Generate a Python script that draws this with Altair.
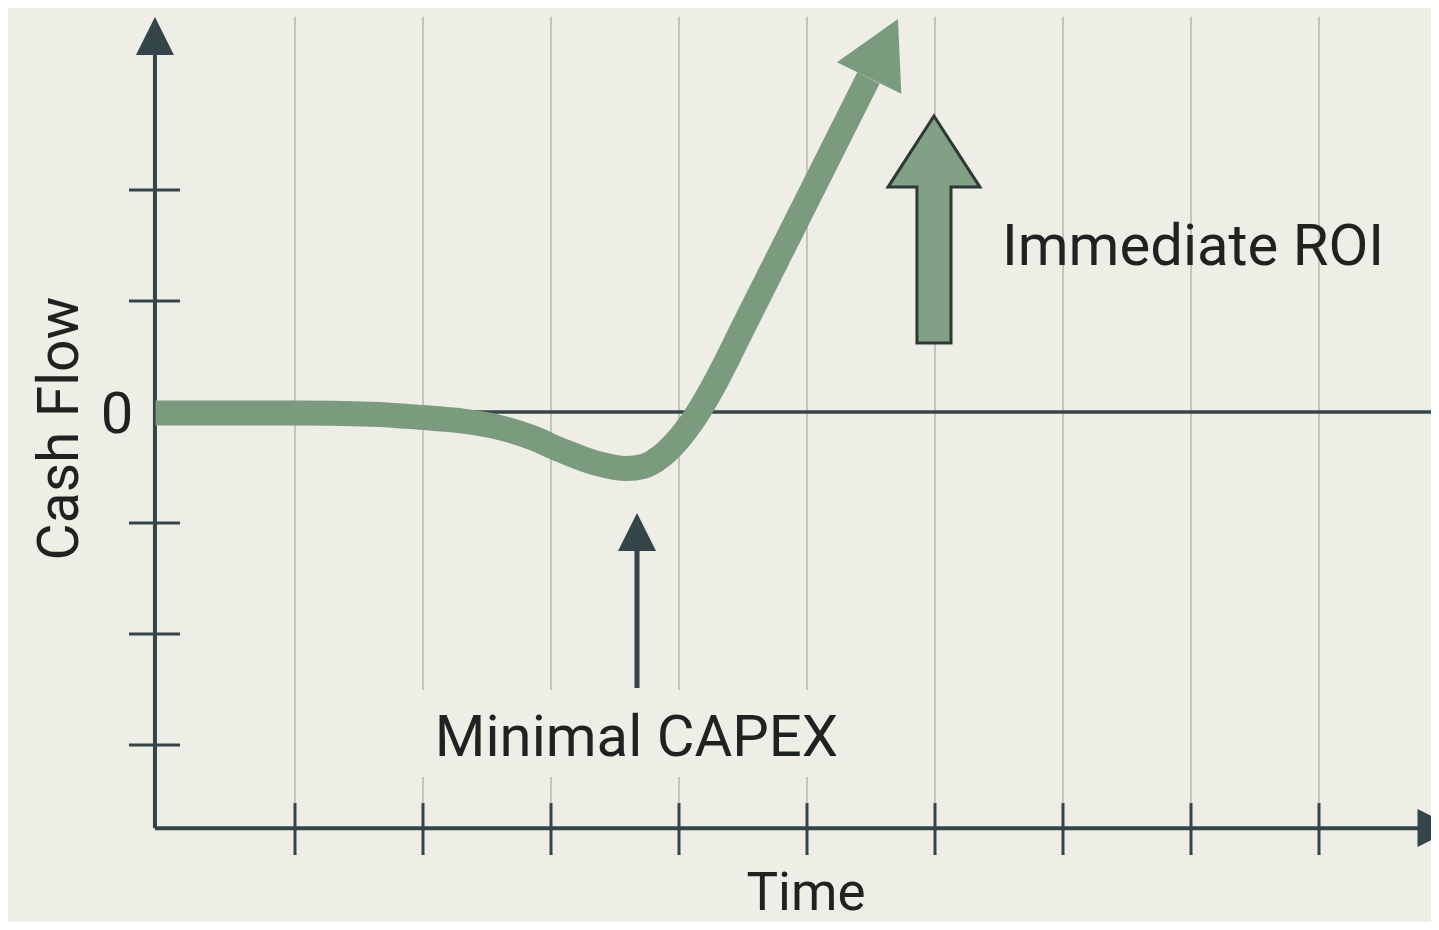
import altair as alt
import pandas as pd

# ---------------- data ----------------
curve_time = [-0.09, 1.0, 1.6, 2.0, 2.3, 2.6, 2.85, 3.07, 3.35, 3.59, 3.72, 3.86, 4.0, 4.14, 4.3, 4.5, 5.48]
curve_cash = [-0.01, -0.01, -0.02, -0.05, -0.08, -0.14, -0.23, -0.34, -0.46, -0.51, -0.49, -0.4, -0.24, -0.02, 0.3, 0.76, 3.01]

grid_times = [1, 2, 3, 4, 5, 6, 7, 8, 9]
broken_grid_times = [2, 3, 4, 5]
y_tick_values = [-3, -2, -1, 1, 2]

axis_time = -0.094
axis_cash = -3.75
grid_top = 3.56
label_gap = (-2.505, -3.288)
x_tick_span = (-3.523, -3.991)
y_tick_span = (-0.297, 0.102)
y_axis_top = 3.3

head_points_t = [-0.094, 9.918, 3.672]
head_points_v = [3.387, -3.748, -1.081]
head_angles = [0, 90, 0]

curve_head_t = [5.598]
curve_head_v = [3.275]

roi_arrow_t = [5.992]
roi_arrow_v = [1.644]

capex_shaft_t = [3.672]
capex_shaft_v = [-2.486]
capex_shaft_v2 = [-1.198]

labels_text = ["Minimal CAPEX", "Immediate ROI", "Time", "Cash Flow", "0"]
labels_t = [3.668, 8.016, 4.992, -0.695, -0.39]
labels_v = [-3.099, 1.324, -4.487, -0.149, -0.189]
labels_angle = [0, 0, 0, 270, 0]
labels_size = [58, 58, 53, 57, 58]

# ---------------- tables ----------------
curve_df = pd.DataFrame({"t": curve_time, "v": curve_cash, "o": list(range(len(curve_time)))})

grid_rows = []
for g in grid_times:
    if g in broken_grid_times:
        grid_rows.append({"t": g, "v": grid_top, "v2": label_gap[0]})
        grid_rows.append({"t": g, "v": label_gap[1], "v2": axis_cash})
    else:
        grid_rows.append({"t": g, "v": grid_top, "v2": axis_cash})
grid_df = pd.DataFrame(grid_rows)

xtick_df = pd.DataFrame({"t": grid_times, "v": [x_tick_span[0]] * 9, "v2": [x_tick_span[1]] * 9})
ytick_df = pd.DataFrame({"v": y_tick_values, "t": [y_tick_span[0]] * 5, "t2": [y_tick_span[1]] * 5})

yaxis_df = pd.DataFrame({"t": [axis_time], "v": [axis_cash], "v2": [y_axis_top]})
xaxis_df = pd.DataFrame({"v": [axis_cash], "t": [axis_time], "t2": [9.875]})
zero_df = pd.DataFrame({"v": [0.0], "t": [axis_time], "t2": [9.875]})

heads_df = pd.DataFrame({"t": head_points_t, "v": head_points_v, "a": head_angles})
curve_head_df = pd.DataFrame({"t": curve_head_t, "v": curve_head_v})
roi_df = pd.DataFrame({"t": roi_arrow_t, "v": roi_arrow_v})
capex_df = pd.DataFrame({"t": capex_shaft_t, "v": capex_shaft_v, "v2": capex_shaft_v2})
labels_df = pd.DataFrame({"text": labels_text, "t": labels_t, "v": labels_v,
                          "a": labels_angle, "s": labels_size})

# ---------------- scales ----------------
xs = alt.Scale(domain=[-159 / 128, 1264 / 128], nice=False, zero=False)
ys = alt.Scale(domain=[-510 / 111, 404 / 111], nice=False, zero=False)

def X(f="t"):
    return alt.X(f, type="quantitative", scale=xs, axis=None)

def Y(f="v"):
    return alt.Y(f, type="quantitative", scale=ys, axis=None)

DARK = "#34454a"
GREEN = "#7b9b7e"
GRID = "#c4c4bc"

grid = alt.Chart(grid_df).mark_rule(color=GRID, strokeWidth=2).encode(
    x=X(), y=Y(), y2="v2:Q")

zero = alt.Chart(zero_df).mark_rule(color=DARK, strokeWidth=3.5).encode(
    x=X(), x2="t2:Q", y=Y())

yaxis = alt.Chart(yaxis_df).mark_rule(color=DARK, strokeWidth=4).encode(
    x=X(), y=Y(), y2="v2:Q")
xaxis = alt.Chart(xaxis_df).mark_rule(color=DARK, strokeWidth=4).encode(
    x=X(), x2="t2:Q", y=Y())

xticks = alt.Chart(xtick_df).mark_rule(color=DARK, strokeWidth=3).encode(
    x=X(), y=Y(), y2="v2:Q")
yticks = alt.Chart(ytick_df).mark_rule(color=DARK, strokeWidth=3).encode(
    x=X(), x2="t2:Q", y=Y())

heads = alt.Chart(heads_df).mark_point(
    shape="M0,-1L1,1L-1,1Z", filled=True, size=1444, color=DARK, opacity=1
).encode(x=X(), y=Y(), angle=alt.Angle("a:Q", scale=None))

curve = alt.Chart(curve_df).mark_line(
    color=GREEN, strokeWidth=25, interpolate="monotone", strokeCap="butt"
).encode(x=X(), y=Y(), order="o:Q")

curve_head = alt.Chart(curve_head_df).mark_point(
    shape="M0,-1L1.09,1L-1.09,1Z", filled=True, size=4316, angle=26,
    color=GREEN, opacity=1
).encode(x=X(), y=Y())

roi = alt.Chart(roi_df).mark_point(
    shape="M0,-1L0.405,-0.374L0.15,-0.374L0.15,1L-0.15,1L-0.15,-0.374L-0.405,-0.374Z",
    filled=True, size=51529, fill="#82a086", stroke="#2c3a36", strokeWidth=3,
    strokeJoin="miter", opacity=1
).encode(x=X(), y=Y())

capex = alt.Chart(capex_df).mark_rule(color=DARK, strokeWidth=5).encode(
    x=X(), y=Y(), y2="v2:Q")

labels = alt.Chart(labels_df).mark_text(
    font="Roboto", color="#1e2322", align="center", baseline="alphabetic"
).encode(
    x=X(), y=Y(), text="text:N",
    angle=alt.Angle("a:Q", scale=None),
    size=alt.Size("s:Q", scale=None),
)

chart = alt.layer(
    grid, zero, xticks, yticks, yaxis, xaxis, heads, curve, curve_head, roi, capex, labels
).properties(
    width=1423, height=914,
    autosize=alt.AutoSizeParams(type="none"),
    padding=0,
    background="#eeede6",
).configure_view(stroke=None)

chart.save("out.html", embed_options={"renderer": "svg", "actions": False})
